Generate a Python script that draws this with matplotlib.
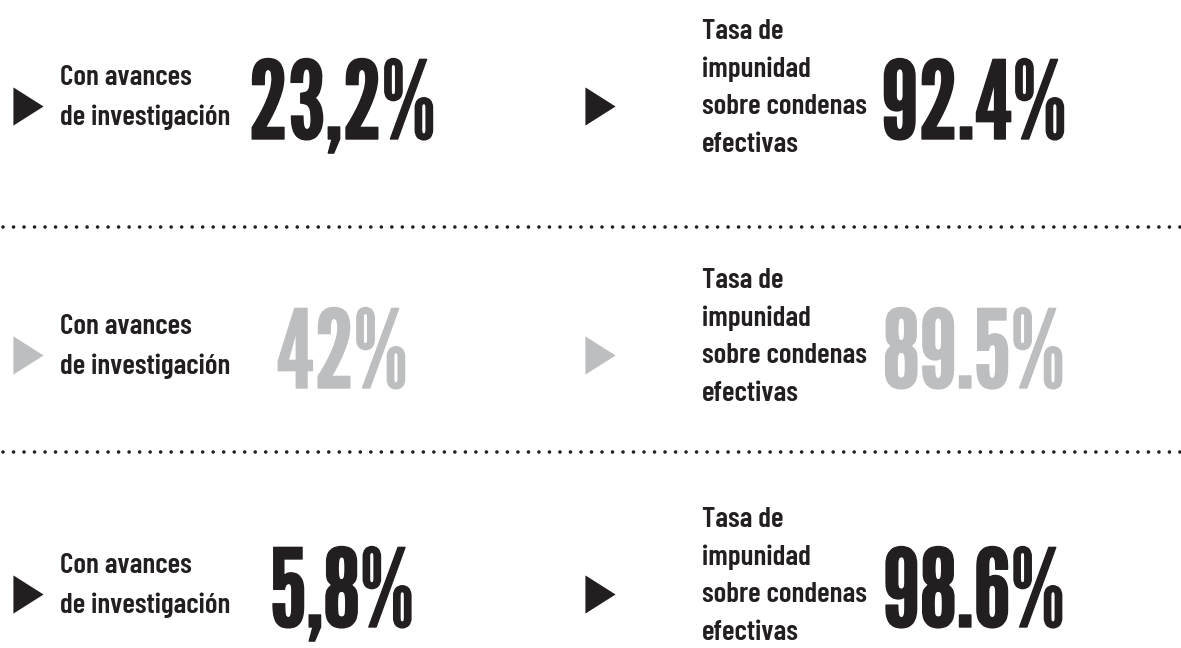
import matplotlib
matplotlib.use('Agg')
import matplotlib.pyplot as plt
import matplotlib.patheffects as pe

# --- data ---
inv_label = ['Con avances', 'de investigación']
imp_label = ['Tasa de', 'impunidad', 'sobre condenas', 'efectivas']
inv_values = ['23,2%', '42%', '5,8%']       # con avances de investigación
imp_values = ['92.4%', '89.5%', '98.6%']    # tasa de impunidad
row_colors = ['#231f20', '#bcbec0', '#231f20']
# -------------

DARK = '#231f20'
FONT = ['Barlow Condensed', 'DejaVu Sans']
BIG = ['League Gothic', 'Oswald', 'Barlow Condensed', 'DejaVu Sans']

W, H = 1181, 648
fig = plt.figure(figsize=(W / 100, H / 100), dpi=100)
ax = fig.add_axes([0, 0, 1, 1])
ax.set_xlim(0, W)
ax.set_ylim(H, 0)
ax.axis('off')

base = [139, 388, 627]           # baseline of the big numbers (px)
tri = [(-0.79, -1), (0.79, 0), (-0.79, 1)]

for i, nb in enumerate(base):
    c = row_colors[i]
    heavy = [pe.withStroke(linewidth=1.0, foreground=c)]
    # arrows
    ax.scatter([28, 600], [nb - 33, nb - 33], marker=tri, s=27.5 ** 2,
               color=c, linewidths=0)
    # left block
    ax.text(60, nb - 54, inv_label[0], fontsize=21, fontweight='semibold',
            family=FONT, color=DARK, va='baseline', ha='left')
    ax.text(60, nb - 14, inv_label[1], fontsize=21, fontweight='semibold',
            family=FONT, color=DARK, va='baseline', ha='left')
    ax.text(342, nb, inv_values[i], fontsize=78, fontweight='bold',
            family=BIG, color=c, va='baseline', ha='center',
            path_effects=heavy)
    # right block
    for j, line in enumerate(imp_label):
        ax.text(702, nb - 100 + 37.7 * j, line, fontsize=21,
                fontweight='semibold', family=FONT, color=DARK,
                va='baseline', ha='left')
    ax.text(974, nb, imp_values[i], fontsize=78, fontweight='bold',
            family=BIG, color=c, va='baseline', ha='center',
            path_effects=heavy)

# dotted separators
for sy in [227, 452]:
    ax.plot([3, W], [sy, sy], color=DARK, lw=2.6,
            linestyle=(0, (0.01, 2.9)), dash_capstyle='round')

fig.savefig('out.png', dpi=100, facecolor='white')
